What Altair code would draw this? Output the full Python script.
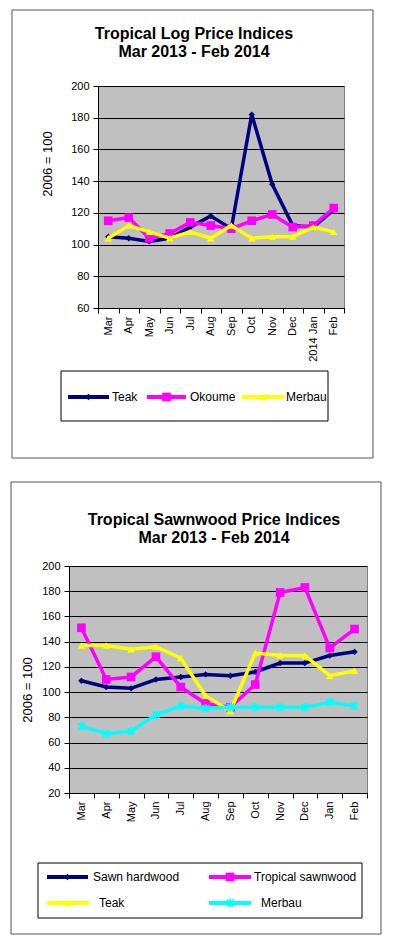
import altair as alt
import pandas as pd

FONT = "Liberation Sans"

# ---------------- data ----------------
log_months = ["Mar", "Apr", "May", "Jun", "Jul", "Aug", "Sep", "Oct", "Nov", "Dec", "2014 Jan", "Feb"]
log_teak = [105, 104, 102, 104, 111, 118, 110, 182, 138, 112, 111, 122]
log_okoume = [115, 117, 104, 107, 114, 112, 110, 115, 119, 111, 112, 123]
log_merbau = [104, 112, 108, 104, 108, 104, 112, 104, 105, 105, 111, 108]

saw_months = ["Mar", "Apr", "May", "Jun", "Jul", "Aug", "Sep", "Oct", "Nov", "Dec", "Jan", "Feb"]
saw_hardwood = [109, 104, 103, 110, 112, 114, 113, 116, 123, 123, 129, 132]
saw_tropical = [151, 110, 112, 128, 104, 91, 88, 106, 179, 183, 135, 150]
saw_teak = [137, 137, 134, 136, 127, 97, 85, 131, 129, 129, 113, 117]
saw_merbau = [73, 67, 69, 82, 89, 87, 88, 88, 88, 88, 92, 89]

NAVY = "#000080"
MAG = "#FF00FF"
YEL = "#FFFF00"
CYAN = "#00FFFF"
ASTER = "M-1,-1L1,1M-1,1L1,-1M0,-1.3L0,1.3"

# (name, values, color, shape, size, filled)
log_series = [
    ("Teak", log_teak, NAVY, "diamond", 40, True),
    ("Okoume", log_okoume, MAG, "square", 75, True),
    ("Merbau", log_merbau, YEL, "triangle-up", 55, True),
]
saw_series = [
    ("Sawn hardwood", saw_hardwood, NAVY, "diamond", 40, True),
    ("Tropical sawnwood", saw_tropical, MAG, "square", 75, True),
    ("Teak", saw_teak, YEL, "triangle-up", 55, True),
    ("Merbau", saw_merbau, CYAN, ASTER, 45, False),
]


def one():
    return alt.Chart(pd.DataFrame({"k": [0]}))


def marker(shape, size, color, filled):
    if filled:
        return dict(shape=shape, size=size, color=color, filled=True, opacity=1)
    return dict(shape=shape, size=size, color=color, filled=False, strokeWidth=1.8, opacity=1)


def build(months, series, ymin, ymax, W, H, border, titles, ytitle, legend_box, legend_items):
    xenc = alt.X(
        "month:N",
        scale=alt.Scale(type="band", domain=months, paddingInner=0, paddingOuter=0),
        axis=alt.Axis(title=None, labelAngle=270, tickBand="extent", grid=False,
                      labelFontSize=11, labelPadding=3, tickSize=5),
    )
    yenc = alt.Y(
        "v:Q",
        scale=alt.Scale(domain=[ymin, ymax], nice=False, zero=False),
        axis=alt.Axis(title=None, values=list(range(ymin, ymax + 1, 20)), grid=True,
                      tickSize=5, labelPadding=4, labelFontSize=11),
    )
    layers = []
    bx1, bx2, by1, by2 = border
    layers.append(one().mark_rect(fill="white", fillOpacity=0, stroke="#555555", strokeWidth=1).encode(
        x=alt.value(bx1), x2=alt.value(bx2), y=alt.value(by1), y2=alt.value(by2)))
    for name, vals, color, shape, size, filled in series:
        base = alt.Chart(pd.DataFrame({"month": months, "v": vals})).encode(x=xenc, y=yenc)
        layers.append(base.mark_line(color=color, strokeWidth=3.5))
        layers.append(base.mark_point(**marker(shape, size, color, filled)))
    for txt, tx, ty in titles:
        layers.append(one().mark_text(text=txt, font=FONT, fontSize=16, fontWeight="bold",
                                      align="center", baseline="alphabetic", color="black").encode(
            x=alt.value(tx), y=alt.value(ty)))
    ytxt, yx, yy, yfs = ytitle
    layers.append(one().mark_text(text=ytxt, font=FONT, fontSize=yfs, angle=270, align="center",
                                  baseline="middle", color="black").encode(x=alt.value(yx), y=alt.value(yy)))
    lx1, lx2, ly1, ly2 = legend_box
    layers.append(one().mark_rect(fill="white", stroke="black", strokeWidth=1).encode(
        x=alt.value(lx1), x2=alt.value(lx2), y=alt.value(ly1), y2=alt.value(ly2)))
    for (name, vals, color, shape, size, filled), (sx1, sx2, sy, tx) in zip(series, legend_items):
        layers.append(one().mark_rule(color=color, strokeWidth=4).encode(
            x=alt.value(sx1), x2=alt.value(sx2), y=alt.value(sy)))
        layers.append(one().mark_point(**marker(shape, size, color, filled)).encode(
            x=alt.value((sx1 + sx2) / 2), y=alt.value(sy)))
        layers.append(one().mark_text(text=name, font=FONT, fontSize=12, align="left",
                                      baseline="middle", color="black").encode(
            x=alt.value(tx), y=alt.value(sy)))
    return alt.layer(*layers).properties(width=W, height=H)


c1 = build(
    log_months, log_series, 60, 200, 246, 222,
    border=(-86, 275, -76, 372),
    titles=[("Tropical Log Price Indices", 96, -47), ("Mar 2013 - Feb 2014", 96, -29)],
    ytitle=("2006 = 100", -50, 78, 13),
    legend_box=(-37, 230, 285, 335),
    legend_items=[(-30, 11, 311, 14), (49, 88, 311, 92), (144, 186, 311, 188)],
)

c2 = build(
    saw_months, saw_series, 20, 200, 298, 227,
    border=(-58, 312, -84, 368),
    titles=[("Tropical Sawnwood Price Indices", 145, -41), ("Mar 2013 - Feb 2014", 145, -23)],
    ytitle=("2006 = 100", -41, 124, 13),
    legend_box=(-31, 293, 297, 352),
    legend_items=[(-22, 19, 311, 24), (140, 182, 311, 185), (-22, 20, 337, 30), (140, 182, 337, 192)],
)

spacer = one().mark_point(opacity=0).properties(
    width=29, height=1,
    view=alt.ViewBackground(fillOpacity=0, strokeOpacity=0, strokeWidth=0),
)

row1 = alt.hconcat(spacer, c1, spacing=0, bounds="flush")

chart = alt.vconcat(row1, c2, spacing=22).properties(
    padding={"left": 2, "top": 1, "right": 2, "bottom": 2}
).configure_view(
    fill="#C0C0C0", stroke="#808080", strokeWidth=1
).configure_axis(
    labelFont=FONT, labelColor="black", domainColor="black", tickColor="black",
    gridColor="black", gridOpacity=1, gridWidth=1, domainWidth=1, tickWidth=1
)

chart.save("out.html", embed_options={"renderer": "svg", "actions": False})
